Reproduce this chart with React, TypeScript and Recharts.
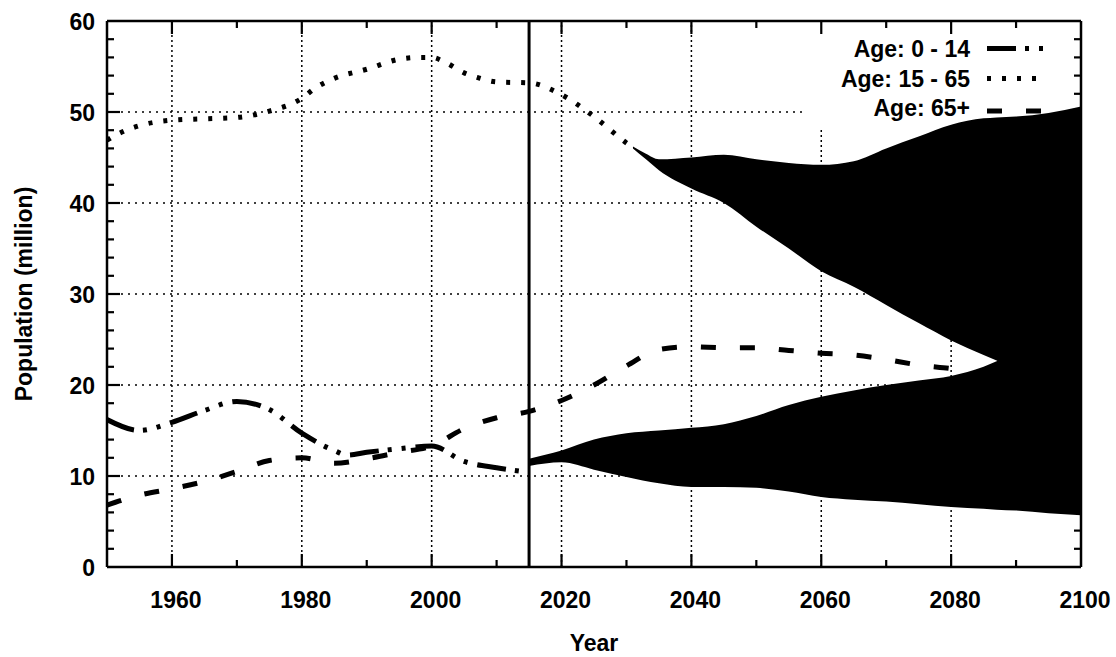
import React from 'react';
import {
  ComposedChart,
  Line,
  Area,
  XAxis,
  YAxis,
  ReferenceLine,
  ReferenceArea,
  Legend,
} from 'recharts';

// ---- data ----
const childYears = [1950, 1955, 1960, 1965, 1970, 1975, 1980, 1985, 1987, 1990, 1995, 2000, 2005, 2010, 2015];
const childValues = [16.2, 15.0, 15.9, 17.2, 18.2, 17.3, 14.7, 12.8, 12.3, 12.6, 13.0, 13.3, 11.6, 10.9, 10.4];

const workYears = [1950, 1952, 1955, 1960, 1965, 1970, 1975, 1980, 1982, 1985, 1990, 1995, 1998, 2000, 2002, 2005, 2007, 2010, 2015, 2020, 2025, 2030, 2031];
const workValues = [46.9, 47.7, 48.5, 49.1, 49.25, 49.4, 50.1, 51.5, 52.6, 53.7, 54.7, 55.8, 56.0, 56.0, 55.5, 54.3, 53.8, 53.3, 53.2, 51.9, 49.5, 46.6, 46.1];

const elderYears = [1950, 1955, 1960, 1965, 1970, 1975, 1980, 1985, 1990, 1995, 2000, 2005, 2010, 2015, 2020, 2025, 2030, 2035, 2040, 2045, 2050, 2055, 2060, 2065, 2070, 2075, 2080, 2082];
const elderValues = [6.8, 7.9, 8.6, 9.4, 10.5, 11.7, 12.0, 11.4, 11.9, 12.6, 13.3, 15.2, 16.4, 17.1, 18.3, 20.0, 22.1, 23.9, 24.2, 24.1, 24.1, 23.8, 23.5, 23.3, 22.8, 22.2, 21.8, 21.6];

const workProjYears = [2031, 2033, 2035, 2040, 2045, 2050, 2055, 2060, 2065, 2070, 2075, 2080, 2085, 2087, 2090, 2095, 2100];
const workProjLow = [46.0, 44.8, 43.6, 41.6, 40.0, 37.4, 35.0, 32.5, 30.8, 28.8, 26.8, 24.9, 23.3, 22.7, 21.5, 20.0, 18.5];
const workProjHigh = [46.2, 45.4, 44.8, 45.0, 45.3, 44.8, 44.4, 44.2, 44.6, 46.0, 47.3, 48.6, 49.3, 49.4, 49.5, 49.9, 50.6];

const childProjYears = [2015, 2020, 2025, 2030, 2035, 2040, 2045, 2050, 2055, 2060, 2065, 2070, 2075, 2080, 2085, 2087, 2090, 2095, 2100];
const childProjLow = [11.1, 11.5, 10.7, 9.9, 9.2, 8.8, 8.8, 8.7, 8.3, 7.7, 7.4, 7.2, 6.9, 6.6, 6.4, 6.3, 6.2, 5.9, 5.7];
const childProjHigh = [11.9, 12.8, 14.0, 14.7, 15.0, 15.3, 15.7, 16.6, 17.8, 18.7, 19.4, 20.0, 20.5, 21.0, 22.0, 22.6, 23.5, 24.5, 25.5];

const baseYear = 2015;

const xTicks = [1950, 1960, 1970, 1980, 1990, 2000, 2010, 2020, 2030, 2040, 2050, 2060, 2070, 2080, 2090, 2100];
const xLabelYears = [1960, 1980, 2000, 2020, 2040, 2060, 2080, 2100];
const yTicks = [0, 2, 4, 6, 8, 10, 12, 14, 16, 18, 20, 22, 24, 26, 28, 30, 32, 34, 36, 38, 40, 42, 44, 46, 48, 50, 52, 54, 56, 58, 60];
const yLabelValues = [0, 10, 20, 30, 40, 50, 60];
const xGridYears = [1960, 1980, 2000, 2020, 2040, 2060, 2080];
const yGridValues = [10, 20, 30, 40, 50];

const legendLabels = ['Age: 0 - 14', 'Age: 15 - 65', 'Age: 65+'];

// ---- styles ----
const FONT = "'Liberation Sans', Arial, sans-serif";
const FS = 23;
const DASH_CHILD = '29 9 4 10 4 10';
const DASH_WORK = '4 11';
const DASH_ELDER = '15 24';
const legendDashes = [DASH_CHILD, DASH_WORK, DASH_ELDER];

const toPoints = (xs: number[], ys: number[]) => xs.map((x, i) => ({ year: x, value: ys[i] }));
const toRange = (xs: number[], lo: number[], hi: number[]) => xs.map((x, i) => ({ year: x, range: [lo[i], hi[i]] }));

const childData = toPoints(childYears, childValues);
const workData = toPoints(workYears, workValues);
const elderData = toPoints(elderYears, elderValues);
const workProjData = toRange(workProjYears, workProjLow, workProjHigh);
const childProjData = toRange(childProjYears, childProjLow, childProjHigh);

const isEdgeX = (v: number) => v === 1950 || v === 2100;
const isEdgeY = (v: number) => v === 0 || v === 60;

const BottomTick = (props: any) => {
  const { x, y, payload } = props;
  const v = Number(payload.value);
  const major = xLabelYears.includes(v);
  const len = major ? 13 : 7;
  return (
    <g>
      {!isEdgeX(v) && (
        <path d={`M${x},${y}L${x},${y - len}`} stroke="#000" strokeWidth={2.2} fill="none" />
      )}
      {major && (
        <text x={x + 4} y={y + 41} textAnchor="middle" fontFamily={FONT} fontSize={FS} fontWeight="bold" fill="#000" stroke="none">
          {v}
        </text>
      )}
    </g>
  );
};

const TopTick = (props: any) => {
  const { x, y, payload } = props;
  const v = Number(payload.value);
  const len = xLabelYears.includes(v) ? 13 : 7;
  return (
    <g>
      {!isEdgeX(v) && <path d={`M${x},${y}L${x},${y + len}`} stroke="#000" strokeWidth={2.2} fill="none" />}
    </g>
  );
};

const LeftTick = (props: any) => {
  const { x, y, payload } = props;
  const v = Number(payload.value);
  const major = yLabelValues.includes(v);
  const len = major ? 13 : 7;
  return (
    <g>
      {!isEdgeY(v) && <path d={`M${x},${y}L${x + len},${y}`} stroke="#000" strokeWidth={2.2} fill="none" />}
      {major && (
        <text x={x - 12} y={y + 9} textAnchor="end" fontFamily={FONT} fontSize={FS} fontWeight="bold" fill="#000" stroke="none">
          {v}
        </text>
      )}
    </g>
  );
};

const RightTick = (props: any) => {
  const { x, y, payload } = props;
  const v = Number(payload.value);
  const len = yLabelValues.includes(v) ? 13 : 7;
  return (
    <g>
      {!isEdgeY(v) && <path d={`M${x},${y}L${x - len},${y}`} stroke="#000" strokeWidth={2.2} fill="none" />}
    </g>
  );
};

const LegendBox = () => (
  <svg width={280} height={110} style={{ display: 'block', overflow: 'visible' }}>
    {legendLabels.map((label, i) => {
      const cy = [27.5, 57.5, 90][i];
      const base = [36, 65.5, 95][i];
      return (
        <g key={label}>
          <text x={170} y={base} textAnchor="end" fontFamily={FONT} fontSize={FS} fontWeight="bold" fill="#000">
            {label}
          </text>
          <line x1={187} x2={247} y1={cy} y2={cy} stroke="#000" strokeWidth={5} strokeDasharray={legendDashes[i]} />
        </g>
      );
    })}
  </svg>
);

export default function App() {
  return (
    <div style={{ position: 'absolute', left: 0, top: 0, width: 1116, height: 657, background: '#fff' }}>
      <ComposedChart width={1116} height={657} margin={{ top: 20, right: 34, bottom: 0, left: 0 }}>
        <XAxis
          xAxisId="b"
          dataKey="year"
          type="number"
          domain={[1950, 2100]}
          allowDataOverflow
          ticks={xTicks}
          interval={0}
          orientation="bottom"
          height={90}
          tickSize={0}
          tickMargin={0}
          tickLine={false}
          axisLine={{ stroke: '#000', strokeWidth: 2.5 }}
          tick={BottomTick}
          label={{
            value: 'Year',
            position: 'insideBottom',
            offset: 6,
            style: { fontFamily: FONT, fontSize: FS, fontWeight: 'bold', fill: '#000' },
          }}
        />
        <XAxis
          xAxisId="t"
          dataKey="year"
          type="number"
          domain={[1950, 2100]}
          allowDataOverflow
          ticks={xTicks}
          interval={0}
          orientation="top"
          height={1}
          tickSize={0}
          tickMargin={0}
          tickLine={false}
          axisLine={{ stroke: '#000', strokeWidth: 2.5 }}
          tick={TopTick}
        />
        <YAxis
          yAxisId="l"
          type="number"
          domain={[0, 60]}
          allowDataOverflow
          ticks={yTicks}
          interval={0}
          orientation="left"
          width={107}
          tickSize={0}
          tickMargin={0}
          tickLine={false}
          axisLine={{ stroke: '#000', strokeWidth: 2.5 }}
          tick={LeftTick}
          label={{
            value: 'Population (million)',
            angle: -90,
            position: 'insideLeft',
            offset: 24,
            style: { textAnchor: 'middle', fontFamily: FONT, fontSize: FS, fontWeight: 'bold', fill: '#000' },
          }}
        />
        <YAxis
          yAxisId="r"
          type="number"
          domain={[0, 60]}
          allowDataOverflow
          ticks={yTicks}
          interval={0}
          orientation="right"
          width={1}
          tickSize={0}
          tickMargin={0}
          tickLine={false}
          axisLine={{ stroke: '#000', strokeWidth: 2.5 }}
          tick={RightTick}
        />

        {xGridYears.map((yr) => (
          <ReferenceLine
            key={'gx' + yr}
            xAxisId="b"
            yAxisId="l"
            x={yr}
            stroke="#000"
            strokeWidth={1.5}
            strokeDasharray="2 3"
            zIndex={-90}
          />
        ))}
        {yGridValues.map((v) => (
          <ReferenceLine
            key={'gy' + v}
            xAxisId="b"
            yAxisId="l"
            y={v}
            stroke="#000"
            strokeWidth={1.5}
            strokeDasharray="2 5"
            zIndex={-90}
          />
        ))}
        <ReferenceArea
          xAxisId="b"
          yAxisId="l"
          x1={2057.8}
          x2={2100}
          y1={48.3}
          y2={60}
          fill="#fff"
          fillOpacity={1}
          stroke="none"
          zIndex={-80}
        />

        <Area
          xAxisId="b"
          yAxisId="l"
          data={childProjData}
          dataKey="range"
          type="monotone"
          stroke="none"
          fill="#000"
          fillOpacity={1}
          isAnimationActive={false}
          dot={false}
          activeDot={false}
          legendType="none"
        />
        <Area
          xAxisId="b"
          yAxisId="l"
          data={workProjData}
          dataKey="range"
          type="monotone"
          stroke="none"
          fill="#000"
          fillOpacity={1}
          isAnimationActive={false}
          dot={false}
          activeDot={false}
          legendType="none"
        />

        <Line
          xAxisId="b"
          yAxisId="l"
          data={childData}
          dataKey="value"
          name={legendLabels[0]}
          type="monotone"
          stroke="#000"
          strokeWidth={5}
          strokeDasharray={DASH_CHILD}
          dot={false}
          activeDot={false}
          isAnimationActive={false}
        />
        <Line
          xAxisId="b"
          yAxisId="l"
          data={workData}
          dataKey="value"
          name={legendLabels[1]}
          type="monotone"
          stroke="#000"
          strokeWidth={5}
          strokeDasharray={DASH_WORK}
          dot={false}
          activeDot={false}
          isAnimationActive={false}
        />
        <Line
          xAxisId="b"
          yAxisId="l"
          data={elderData}
          dataKey="value"
          name={legendLabels[2]}
          type="monotone"
          stroke="#000"
          strokeWidth={5}
          strokeDasharray={DASH_ELDER}
          dot={false}
          activeDot={false}
          isAnimationActive={false}
        />

        <ReferenceLine xAxisId="b" yAxisId="l" x={baseYear} stroke="#000" strokeWidth={3} zIndex={450} />

        <Legend
          layout="vertical"
          verticalAlign="middle"
          align="center"
          wrapperStyle={{ position: 'absolute', left: 800, top: 21, width: 280, height: 110 }}
          content={() => <LegendBox />}
        />
      </ComposedChart>
    </div>
  );
}
